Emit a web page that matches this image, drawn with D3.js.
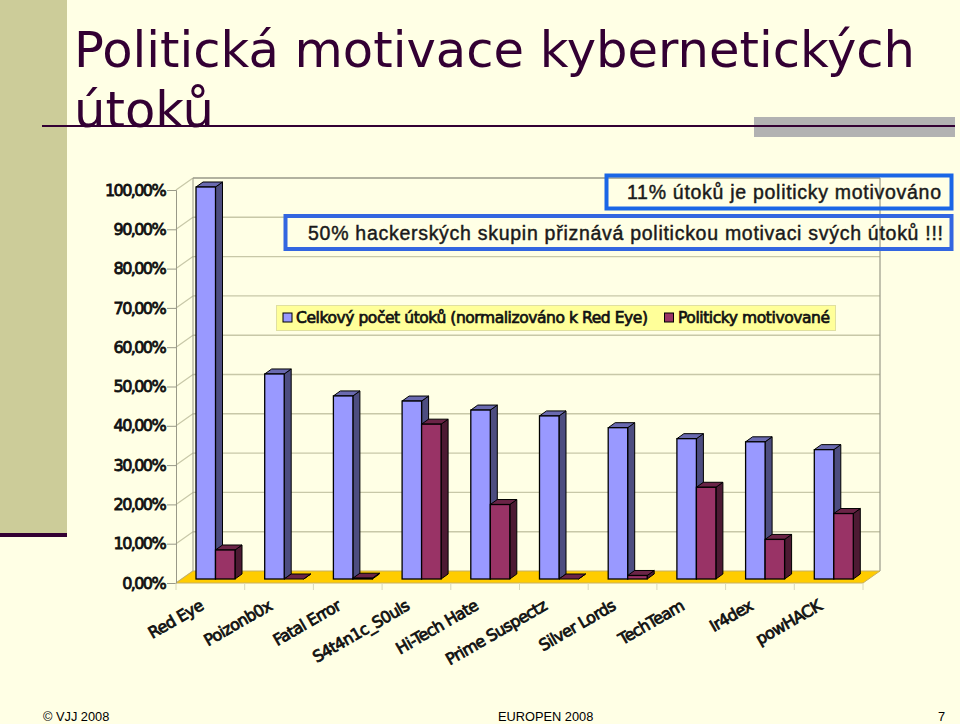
<!DOCTYPE html>
<html>
<head>
<meta charset="utf-8">
<script src="https://cdn.jsdelivr.net/npm/d3@7"></script>
<style>
html, body { margin: 0; padding: 0; background: #ffffe5; overflow: hidden; }
svg { display: block; }
</style>
</head>
<body>
<div id="chart"></div>
<script>
// values
const categories = ["Red Eye", "Poizonb0x", "Fatal Error", "S4t4n1c_S0uls", "Hi-Tech Hate",
    "Prime Suspectz", "Silver Lords", "TechTeam", "Ir4dex", "powHACK"]
const totalAttacks = [100, 52.3, 46.7, 45.4, 43.1, 41.6, 38.6, 35.8, 35, 33]
const politicalAttacks = [7.4, 0, 0.2, 39.5, 19, 0, 0.9, 23.4, 10.1, 16.7]
const tickValues = [0, 10, 20, 30, 40, 50, 60, 70, 80, 90, 100]
const legendLabels = ["Celkový počet útoků (normalizováno k Red Eye)", "Politicky motivované"]

const width = 960
const height = 724

const svg = d3.select("#chart").append("svg")
    .attr("width", width)
    .attr("height", height)

// slide background
svg.append("rect").attr("width", width).attr("height", height).attr("fill", "#ffffe5")
svg.append("rect").attr("width", 67).attr("height", 534).attr("fill", "#cccc99")
svg.append("rect").attr("y", 533).attr("width", 67).attr("height", 4).attr("fill", "#330033")
svg.append("rect").attr("x", 754).attr("y", 117).attr("width", 201).attr("height", 20).attr("fill", "#b2b2b2")
svg.append("rect").attr("x", 42).attr("y", 125).attr("width", 913).attr("height", 2).attr("fill", "#330033")

const title = svg.append("g")
    .attr("font-family", "DejaVu Sans")
    .attr("font-size", 49.6)
    .attr("fill", "#330033")
title.append("text").attr("x", 74).attr("y", 67).text("Politická motivace kybernetických")
title.append("text").attr("x", 74).attr("y", 127).text("útoků")

// chart geometry: front plane, with the back wall pushed up and to the right
const depthX = 17
const depthY = -12
const x = d3.scaleBand().domain(categories).range([176, 863])
const y = d3.scaleLinear().domain([0, 100]).range([583, 190])
const yBar = d3.scaleLinear().domain([0, 100]).range([579, 187])
const barW = 19.5
const barDX = 7
const barDY = -5

const chart = svg.append("g")

// gridlines on the walls
chart.selectAll(".side").data(tickValues).join("line")
    .attr("x1", 176).attr("x2", 176 + depthX)
    .attr("y1", d => y(d)).attr("y2", d => y(d) + depthY)
    .attr("stroke", "#c8c8a8").attr("stroke-width", 1.2)
chart.selectAll(".grid").data(tickValues.filter(d => d > 0)).join("line")
    .attr("x1", 176 + depthX).attr("x2", 863 + depthX)
    .attr("y1", d => y(d) + depthY).attr("y2", d => y(d) + depthY)
    .attr("stroke", d => d === 100 ? "#999988" : "#c8c8a8").attr("stroke-width", 1.4)
chart.append("line")
    .attr("x1", 176 + depthX).attr("x2", 176 + depthX)
    .attr("y1", y(100) + depthY).attr("y2", y(0) + depthY)
    .attr("stroke", "#999988")
chart.append("line")
    .attr("x1", 863 + depthX).attr("x2", 863 + depthX)
    .attr("y1", y(100) + depthY).attr("y2", y(0) + depthY)
    .attr("stroke", "#999988").attr("stroke-width", 1.2)

// floor
chart.append("path")
    .attr("d", d3.line()([[176, y(0)], [863, y(0)], [863 + depthX, y(0) + depthY], [176 + depthX, y(0) + depthY]]) + "Z")
    .attr("fill", "#ffcc00")
    .attr("stroke", "#c8b060")

// axes
const yAxis = d3.axisLeft(y)
    .tickValues(tickValues)
    .tickSize(9)
    .tickPadding(2)
    .tickFormat(d => d3.format(".2f")(d).replace(".", ",") + "%")
const yAxisG = chart.append("g").attr("transform", "translate(176,0)").call(yAxis)
yAxisG.select(".domain").attr("stroke", "#999988")
yAxisG.selectAll(".tick line").attr("stroke", "#999988")
yAxisG.selectAll("text")
    .attr("font-family", "DejaVu Sans")
    .attr("font-size", 16)
    .attr("font-weight", 400)
    .attr("stroke", "#111")
    .attr("stroke-width", 0.8)
    .attr("letter-spacing", -1.6)
    .attr("fill", "#111")

const xTicks = d3.scaleBand().domain(d3.range(categories.length)).range([176, 863])
chart.selectAll(".xtick").data(d3.range(categories.length + 1)).join("line")
    .attr("x1", d => 176 + d * xTicks.bandwidth())
    .attr("x2", d => 176 + d * xTicks.bandwidth())
    .attr("y1", y(0)).attr("y2", y(0) + 7)
    .attr("stroke", "#d8d8b8")

chart.selectAll(".xlabel").data(categories).join("text")
    .attr("transform", d => `translate(${x(d) + x.bandwidth() / 2 - 6},${y(0) + 26}) rotate(-30)`)
    .attr("text-anchor", "end")
    .attr("font-family", "DejaVu Sans")
    .attr("font-size", 16)
    .attr("stroke", "#111")
    .attr("stroke-width", 0.8)
    .attr("letter-spacing", -0.7)
    .attr("fill", "#111")
    .text(d => d)

/**
 * This function is for drawing one 3D bar
 * @param {object} g - group to draw in
 * @param {number} left - left edge of the front face
 * @param {number} value - bar value
 * @param {object} colors - front, top and side fill
 */
function drawBar(g, left, value, colors) {
    const top = yBar(value)
    const base = yBar(0)
    const right = left + barW
    const line = d3.line()
    g.append("path")
        .attr("d", line([[right, top], [right + barDX, top + barDY], [right + barDX, base + barDY], [right, base]]) + "Z")
        .attr("fill", colors.side).attr("stroke", "#000").attr("stroke-width", 1)
    g.append("path")
        .attr("d", line([[left, top], [left + barDX, top + barDY], [right + barDX, top + barDY], [right, top]]) + "Z")
        .attr("fill", colors.top).attr("stroke", "#000").attr("stroke-width", 1)
    g.append("rect")
        .attr("x", left).attr("y", top).attr("width", barW).attr("height", base - top)
        .attr("fill", colors.front).attr("stroke", "#000").attr("stroke-width", 1.3)
}

const blue = { front: "#9999ff", top: "#6a6ab0", side: "#4d4d80" }
const maroon = { front: "#993366", top: "#6b2447", side: "#4d1a33" }
const bars = chart.append("g")
categories.forEach((c, i) => {
    const left = x(c) + 20
    drawBar(bars, left, totalAttacks[i], blue)
    drawBar(bars, left + barW, politicalAttacks[i], maroon)
})

// legend
const legend = svg.append("g")
legend.append("rect")
    .attr("x", 276.5).attr("y", 305.5).attr("width", 559).attr("height", 25)
    .attr("fill", "#ffff99").attr("stroke", "#e0e0a0")
const legendX = [283, 664.5]
const legendTextX = [296, 678]
const legendTextW = [352, 152]
legendLabels.forEach((t, i) => {
    legend.append("rect")
        .attr("x", legendX[i]).attr("y", 313).attr("width", 9).attr("height", 9)
        .attr("fill", i === 0 ? blue.front : maroon.front)
        .attr("stroke", "#000")
    legend.append("text")
        .attr("x", legendTextX[i]).attr("y", 323)
        .attr("font-family", "DejaVu Sans")
        .attr("font-size", 15.5)
        .attr("stroke", "#111")
        .attr("stroke-width", 0.7)
        .attr("textLength", legendTextW[i])
        .attr("lengthAdjust", "spacing")
        .attr("fill", "#111")
        .text(t)
})

// callout boxes
svg.append("rect").attr("x", 606.5).attr("y", 175.5).attr("width", 345).attr("height", 33)
    .attr("fill", "none").attr("stroke", "#1a66e6").attr("stroke-width", 4)
svg.append("rect").attr("x", 285.5).attr("y", 216).attr("width", 666).attr("height", 33)
    .attr("fill", "none").attr("stroke", "#3366e0").attr("stroke-width", 4)
const callouts = svg.append("g")
    .attr("font-family", "Liberation Sans")
    .attr("font-size", 19.5)
    .attr("stroke", "#1a1a1a")
    .attr("stroke-width", 0.45)
    .attr("fill", "#1a1a1a")
callouts.append("text").attr("x", 627).attr("y", 199)
    .attr("textLength", 314).attr("lengthAdjust", "spacing")
    .text("11% útoků je politicky motivováno")
callouts.append("text").attr("x", 308).attr("y", 240)
    .attr("textLength", 635).attr("lengthAdjust", "spacing")
    .text("50% hackerských skupin přiznává politickou motivaci svých útoků !!!")

// footer
const footer = svg.append("g")
    .attr("font-family", "Liberation Sans")
    .attr("font-size", 12.8)
    .attr("fill", "#000")
footer.append("text").attr("x", 43).attr("y", 721).text("© VJJ 2008")
footer.append("text").attr("x", 498).attr("y", 721).text("EUROPEN 2008")
footer.append("text").attr("x", 938).attr("y", 721).text("7")
</script>
</body>
</html>
